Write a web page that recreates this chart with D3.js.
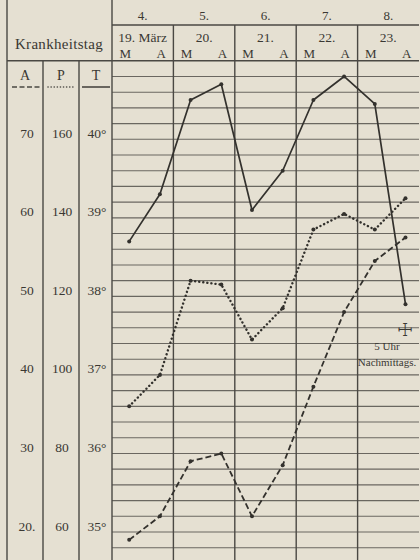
<!DOCTYPE html>
<html>
<head>
<meta charset="utf-8">
<script src="https://cdn.jsdelivr.net/npm/d3@7"></script>
<style>
  html, body { margin: 0; padding: 0; background: #e5e0d2; }
  svg { display: block; }
  text { font-family: "Liberation Serif", "DejaVu Serif", serif; fill: #3a3833; }
</style>
</head>
<body>
<svg id="chart" width="420" height="560"></svg>
<script>
// Fieberkurve: Krankheitstag 4.-8. (19.-23. März), Morgens / Abends
const krankheitstage = ['4.', '5.', '6.', '7.', '8.'];
const daten          = ['19. März', '20.', '21.', '22.', '23.'];
const tageszeiten    = ['M', 'A'];

// Messwerte, je Tag M und A
const temperatur = [38.7, 39.3, 40.5, 40.7, 39.1, 39.6, 40.5, 40.8, 40.45, 37.9];
const puls       = [92, 100, 124, 123, 109, 117, 137, 141, 137, 145];
const atmung     = [19, 22, 29, 30, 22, 28.5, 38.5, 48, 54.5, 57.5];

// Skalenbeschriftung links
const tempTicks  = [40, 39, 38, 37, 36, 35];
const pulsTicks  = [160, 140, 120, 100, 80, 60];
const atemTicks  = [70, 60, 50, 40, 30, 20];
const atemLabels = ['70', '60', '50', '40', '30', '20.'];

const svg = d3.select('#chart');
const W = 420, H = 560;
const left = 112, right = 419;
const headTop = 25;

// y-scales: each curve on its own scale, all sharing the same rows
const yT = d3.scaleLinear().domain([35, 40]).range([532, 139.3]);
const yP = d3.scaleLinear().domain([60, 160]).range(yT.range());
const yA = d3.scaleLinear().domain([20, 70]).range(yT.range());
const headBottom = yT(41);

// x-scales: day columns and half-day slots
const xDay = d3.scaleBand().domain(daten).range([left, right]);
const slots = daten.flatMap(d => tageszeiten.map(t => d + '|' + t));
const xSlot = d3.scaleBand().domain(slots).range([left, right]);
const px = i => xSlot(slots[i]) + xSlot.bandwidth() * 0.56;

const ink = '#4a4843';

// grid rows every 0.2 degree
const rows = d3.range(41, 34.5, -0.2);
svg.append('g').selectAll('line')
  .data(rows.slice(1))
  .enter().append('line')
  .attr('x1', left).attr('x2', right)
  .attr('y1', d => yT(d)).attr('y2', d => yT(d))
  .attr('stroke', '#6a6760').attr('stroke-width', 1.1);

// frame lines
const frame = svg.append('g').attr('stroke', ink).attr('stroke-width', 1.4);
frame.append('line').attr('x1', 7).attr('x2', 7).attr('y1', 0).attr('y2', H);
frame.append('line').attr('x1', left).attr('x2', left).attr('y1', 0).attr('y2', H);
frame.append('line').attr('x1', 43).attr('x2', 43).attr('y1', headBottom).attr('y2', H);
frame.append('line').attr('x1', 79).attr('x2', 79).attr('y1', headBottom).attr('y2', H);
frame.append('line').attr('x1', 7).attr('x2', right).attr('y1', headBottom).attr('y2', headBottom);
frame.append('line').attr('x1', left).attr('x2', right).attr('y1', headTop).attr('y2', headTop);
frame.selectAll('.day')
  .data(daten.slice(1))
  .enter().append('line')
  .attr('x1', d => xDay(d)).attr('x2', d => xDay(d))
  .attr('y1', headTop).attr('y2', H);

// header texts
svg.append('text').attr('x', 59).attr('y', 49).attr('text-anchor', 'middle')
  .attr('font-size', 15).attr('letter-spacing', 0.3).text('Krankheitstag');

svg.append('g').selectAll('text')
  .data(krankheitstage)
  .enter().append('text')
  .attr('x', (d, i) => xDay(daten[i]) + xDay.bandwidth() / 2)
  .attr('y', 20).attr('text-anchor', 'middle').attr('font-size', 13)
  .text(d => d);

svg.append('g').selectAll('text')
  .data(daten)
  .enter().append('text')
  .attr('x', d => xDay(d) + xDay.bandwidth() / 2)
  .attr('y', 42).attr('text-anchor', 'middle').attr('font-size', 13.5)
  .text(d => d);

svg.append('g').selectAll('text')
  .data(slots)
  .enter().append('text')
  .attr('x', (d, i) => xSlot(d) + xSlot.bandwidth() * (i % 2 ? 0.6 : 0.43))
  .attr('y', 58).attr('text-anchor', 'middle').attr('font-size', 13)
  .text(d => d.split('|')[1]);

// A P T column heads with line style key
const keys = [
  { t: 'A', x: 25, x1: 12, x2: 42, dash: '5,2.5', cap: 'butt' },
  { t: 'P', x: 61, x1: 48, x2: 75, dash: '0.1,3', cap: 'round' },
  { t: 'T', x: 96, x1: 82, x2: 110, dash: null, cap: 'butt' }
];
svg.append('g').selectAll('text')
  .data(keys)
  .enter().append('text')
  .attr('x', d => d.x).attr('y', 80).attr('text-anchor', 'middle').attr('font-size', 14)
  .text(d => d.t);
svg.append('g').selectAll('line')
  .data(keys)
  .enter().append('line')
  .attr('x1', d => d.x1).attr('x2', d => d.x2).attr('y1', 87).attr('y2', 87)
  .attr('stroke', ink).attr('stroke-width', 1.6)
  .attr('stroke-linecap', d => d.cap)
  .attr('stroke-dasharray', d => d.dash);

// scale labels
const tickFont = 13.5;
svg.append('g').selectAll('text')
  .data(atemTicks)
  .enter().append('text')
  .attr('x', 27).attr('y', d => yA(d) - 1.5).attr('text-anchor', 'middle').attr('font-size', tickFont)
  .text((d, i) => atemLabels[i]);
svg.append('g').selectAll('text')
  .data(pulsTicks)
  .enter().append('text')
  .attr('x', 62).attr('y', d => yP(d) - 1.5).attr('text-anchor', 'middle').attr('font-size', tickFont)
  .text(d => d);
svg.append('g').selectAll('text')
  .data(tempTicks)
  .enter().append('text')
  .attr('x', 97).attr('y', d => yT(d) - 1.5).attr('text-anchor', 'middle').attr('font-size', tickFont)
  .text(d => d + '°');

// curves
const curves = [
  { values: atmung,     y: yA, dash: '6,3',   cap: 'butt',  w: 1.8 },
  { values: puls,       y: yP, dash: '0.1,4', cap: 'round', w: 2.4 },
  { values: temperatur, y: yT, dash: null,    cap: 'butt',  w: 1.7 }
];
curves.forEach(c => {
  const line = d3.line().x((d, i) => px(i)).y(d => c.y(d));
  svg.append('path')
    .datum(c.values)
    .attr('d', line)
    .attr('fill', 'none')
    .attr('stroke', '#33312d')
    .attr('stroke-width', c.w)
    .attr('stroke-linecap', c.cap)
    .attr('stroke-linejoin', 'round')
    .attr('stroke-dasharray', c.dash);
  svg.append('g').selectAll('circle')
    .data(c.values)
    .enter().append('circle')
    .attr('cx', (d, i) => px(i)).attr('cy', d => c.y(d))
    .attr('r', 2).attr('fill', '#33312d');
});

// Todeszeichen am letzten Messpunkt
const lastX = px(temperatur.length - 1);
svg.append('text').attr('x', lastX).attr('y', yT(37.5)).attr('text-anchor', 'middle')
  .attr('font-family', 'DejaVu Sans').attr('font-size', 18).text('☩');
svg.append('text').attr('x', 387).attr('y', 350).attr('text-anchor', 'middle')
  .attr('font-size', 11).text('5 Uhr');
svg.append('text').attr('x', 387).attr('y', 366).attr('text-anchor', 'middle')
  .attr('font-size', 11).text('Nachmittags.');
</script>
</body>
</html>
